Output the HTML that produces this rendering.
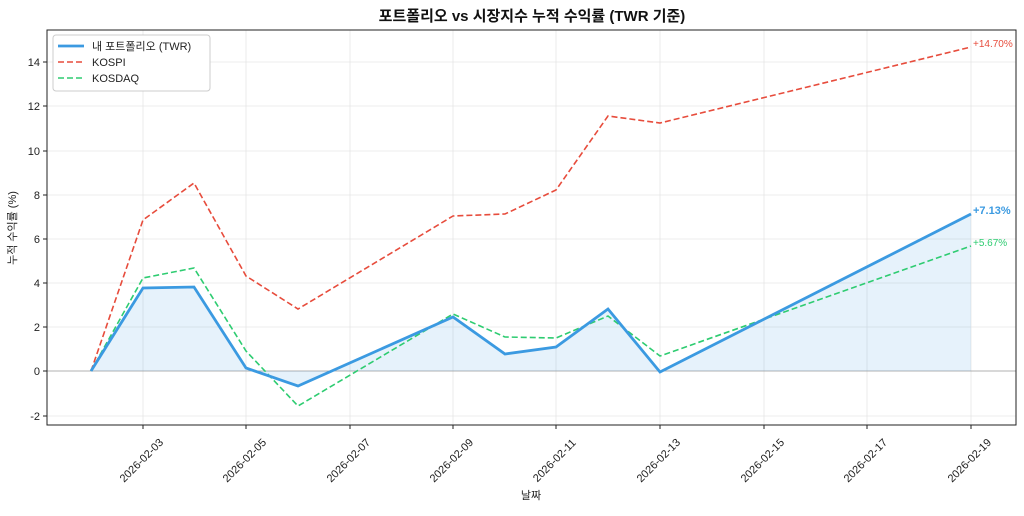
<!DOCTYPE html>
<html><head><meta charset="utf-8"><style>
body{margin:0;background:#fff;}
text{font-family:"Liberation Sans","Noto Sans CJK KR",sans-serif;}
</style></head><body>
<svg width="1024" height="511" xmlns="http://www.w3.org/2000/svg">
<rect width="1024" height="511" fill="#fff"/>
<text x="532" y="21" font-size="15" font-weight="bold" text-anchor="middle" fill="#111">포트폴리오 vs 시장지수 누적 수익률 (TWR 기준)</text>
<g stroke="#e6e6e6" stroke-width="0.8">
<line x1="143" y1="30" x2="143" y2="425"/><line x1="246" y1="30" x2="246" y2="425"/><line x1="350" y1="30" x2="350" y2="425"/><line x1="453" y1="30" x2="453" y2="425"/><line x1="556" y1="30" x2="556" y2="425"/><line x1="660" y1="30" x2="660" y2="425"/><line x1="764" y1="30" x2="764" y2="425"/><line x1="867" y1="30" x2="867" y2="425"/><line x1="971" y1="30" x2="971" y2="425"/>
<line x1="47" y1="62" x2="1016" y2="62"/><line x1="47" y1="106" x2="1016" y2="106"/><line x1="47" y1="151" x2="1016" y2="151"/><line x1="47" y1="195" x2="1016" y2="195"/><line x1="47" y1="239" x2="1016" y2="239"/><line x1="47" y1="283" x2="1016" y2="283"/><line x1="47" y1="327" x2="1016" y2="327"/><line x1="47" y1="416" x2="1016" y2="416"/>
</g>
<line x1="47" y1="371" x2="1016" y2="371" stroke="#999" stroke-width="0.8"/>
<polygon fill="#3b9ae1" fill-opacity="0.13" points="91,371 143,288 194,287 246,368 298,386 453,317 505,354 556,347 608,309 660,372 971,214 971,371"/>
<polyline fill="none" stroke="#e74c3c" stroke-width="1.6" stroke-dasharray="6,3" points="91,371 143,220 194,183 246,276 298,309 453,216 505,214 556,190 608,116 660,123 971,47"/>
<polyline fill="none" stroke="#2ecc71" stroke-width="1.6" stroke-dasharray="6,3" points="91,371 143,278 194,268 246,351 298,406 453,314 505,337 556,338 608,316 660,356 971,246"/>
<polyline fill="none" stroke="#3b9ae1" stroke-width="2.8" points="91,371 143,288 194,287 246,368 298,386 453,317 505,354 556,347 608,309 660,372 971,214"/>
<text x="973" y="47" font-size="10" fill="#e74c3c">+14.70%</text>
<text x="973" y="214" font-size="11" font-weight="bold" fill="#3b9ae1">+7.13%</text>
<text x="973" y="246" font-size="10" fill="#2ecc71">+5.67%</text>
<rect x="47" y="30" width="969" height="395" fill="none" stroke="#222" stroke-width="1"/>
<g font-size="11" fill="#222" text-anchor="end">
<text x="40" y="66">14</text><text x="40" y="110">12</text><text x="40" y="155">10</text><text x="40" y="199">8</text><text x="40" y="243">6</text><text x="40" y="287">4</text><text x="40" y="331">2</text><text x="40" y="375">0</text><text x="40" y="420">-2</text>
</g>
<g stroke="#222"><line x1="43" x2="47" y1="62" y2="62"/><line x1="43" x2="47" y1="106" y2="106"/><line x1="43" x2="47" y1="151" y2="151"/><line x1="43" x2="47" y1="195" y2="195"/><line x1="43" x2="47" y1="239" y2="239"/><line x1="43" x2="47" y1="283" y2="283"/><line x1="43" x2="47" y1="327" y2="327"/><line x1="43" x2="47" y1="371" y2="371"/><line x1="43" x2="47" y1="416" y2="416"/>
<line x1="143" x2="143" y1="425" y2="429"/><line x1="246" x2="246" y1="425" y2="429"/><line x1="350" x2="350" y1="425" y2="429"/><line x1="453" x2="453" y1="425" y2="429"/><line x1="556" x2="556" y1="425" y2="429"/><line x1="660" x2="660" y1="425" y2="429"/><line x1="764" x2="764" y1="425" y2="429"/><line x1="867" x2="867" y1="425" y2="429"/><line x1="971" x2="971" y1="425" y2="429"/></g>
<g font-size="11" fill="#222" text-anchor="middle">
<text transform="translate(144,463) rotate(-45)">2026-02-03</text>
<text transform="translate(247,463) rotate(-45)">2026-02-05</text>
<text transform="translate(351,463) rotate(-45)">2026-02-07</text>
<text transform="translate(454,463) rotate(-45)">2026-02-09</text>
<text transform="translate(557,463) rotate(-45)">2026-02-11</text>
<text transform="translate(661,463) rotate(-45)">2026-02-13</text>
<text transform="translate(765,463) rotate(-45)">2026-02-15</text>
<text transform="translate(868,463) rotate(-45)">2026-02-17</text>
<text transform="translate(972,463) rotate(-45)">2026-02-19</text>
</g>
<text x="531" y="499" font-size="11" text-anchor="middle" fill="#222">날짜</text>
<text transform="translate(16,228) rotate(-90)" font-size="11" text-anchor="middle" fill="#222">누적 수익률 (%)</text>
<rect x="53" y="35" width="157" height="56" fill="#fff" stroke="#ccc" rx="3"/>
<line x1="58" x2="84" y1="46" y2="46" stroke="#3b9ae1" stroke-width="2.8"/>
<line x1="58" x2="84" y1="62" y2="62" stroke="#e74c3c" stroke-width="1.6" stroke-dasharray="6,3"/>
<line x1="58" x2="84" y1="78" y2="78" stroke="#2ecc71" stroke-width="1.6" stroke-dasharray="6,3"/>
<g font-size="11" fill="#222"><text x="92" y="50">내 포트폴리오 (TWR)</text><text x="92" y="66">KOSPI</text><text x="92" y="82">KOSDAQ</text></g>
</svg>
</body></html>
